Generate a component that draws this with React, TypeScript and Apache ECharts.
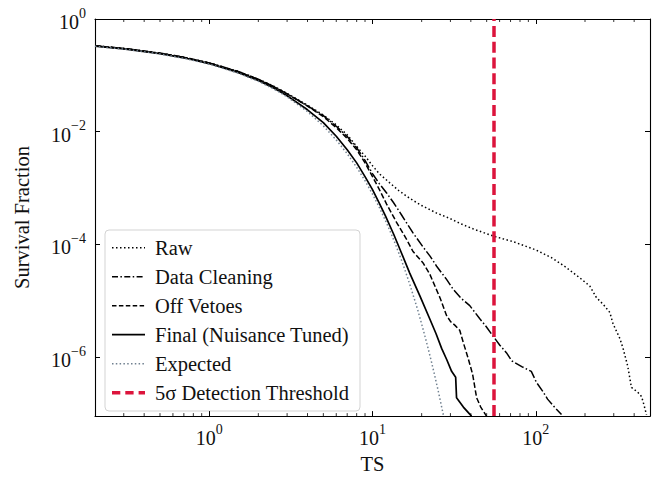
import React, { useEffect, useRef } from 'react';
import * as echarts from 'echarts';

const FONT = '"Liberation Serif", "DejaVu Serif", serif';

// ---- data ----
const tsRaw = [0.2,0.3,0.5,0.7,1,1.5,2,2.5,3,4,5,6,7,8,9,10,11,12.7,14.5,17,20,24.7,29.7,35,42,54.8,72.6,100,125,150,186,214,235,260,284,297,327,342,365,385,420,444,460,476];
const sfRaw = [0.335,0.3,0.248,0.21,0.167,0.118,0.086,0.0635,0.048,0.0295,0.0198,0.0132,0.0088,0.0055,0.0037,0.0025,0.0018,0.00125,9.0e-4,6.5e-4,4.9e-4,3.6e-4,2.9e-4,2.3e-4,1.85e-4,1.41e-4,1.12e-4,8.0e-5,5.8e-5,4.1e-5,2.55e-5,1.83e-5,1.14e-5,8.5e-6,6.2e-6,3.9e-6,2.14e-6,1.43e-6,7e-7,2.9e-7,2.4e-7,2.0e-7,1.4e-7,9.5e-8];

const tsCleaning = [0.2,0.3,0.5,0.7,1,1.5,2,2.5,3,4,5,6,7,8,9,10,11,12.2,13.4,15,17.7,20.4,22.5,24.7,28.4,31.2,35,39.4,45.4,50,54.8,60.2,66,71.3,82,93.8,100.7,110,118,130,143.6];
const sfCleaning = [0.335,0.3,0.247,0.209,0.166,0.117,0.085,0.0625,0.047,0.0288,0.0193,0.0125,0.0082,0.0052,0.0031,0.0018,0.0012,8.2e-4,5.6e-4,3.4e-4,1.6e-4,9.0e-5,6.2e-5,4.1e-5,2.4e-5,1.6e-5,1.1e-5,8.2e-6,4.8e-6,3.4e-6,2.35e-6,1.63e-6,1.2e-6,8.6e-7,6.8e-7,5.6e-7,3.6e-7,2.5e-7,1.8e-7,1.3e-7,9.6e-8];

const tsVetoes = [0.2,0.3,0.5,0.7,1,1.5,2,2.5,3,4,5,6,7,8,9,10,11,12.2,14,16,17.7,20.4,22.4,24.1,26,28.4,30,31.9,34.2,36,38.5,41,43.4,46,49.9];
const sfVetoes = [0.335,0.3,0.247,0.209,0.166,0.117,0.085,0.0625,0.047,0.0285,0.0185,0.0118,0.0076,0.0048,0.0028,0.0016,9.5e-4,5.2e-4,2.5e-4,1.3e-4,7.5e-5,4.7e-5,3.0e-5,1.83e-5,1.1e-5,5.5e-6,4.3e-6,3.7e-6,3.0e-6,1.8e-6,9.6e-7,5e-7,1.9e-7,1.3e-7,9e-8];

const tsFinal = [0.2,0.3,0.5,0.7,1,1.5,2,2.5,3,4,5,6,7,8,9,10,11,12,13.5,15,16.9,19.5,22.4,24.5,26.5,28.5,30.5,32.3,32.7,36,40.4];
const sfFinal = [0.33,0.295,0.243,0.205,0.162,0.113,0.081,0.059,0.0435,0.0245,0.0145,0.0083,0.0048,0.0028,0.0016,9.4e-4,5.4e-4,3.2e-4,1.5e-4,7.2e-5,3.1e-5,1.22e-5,4.8e-6,2.6e-6,1.43e-6,9.0e-7,5.6e-7,4.4e-7,1.9e-7,1.3e-7,9e-8];

const tsExpected = [0.2,0.3,0.5,0.7,1,1.5,2,2.5,3,4,5,6,7,8,9,10,11,12,13,14,15,16,17,18,19,20,21,22,23,24,25,26,27,28];
const sfExpected = [0.327,0.292,0.240,0.201,0.159,0.110,0.0786,0.0569,0.0417,0.0228,0.0127,0.00715,0.00408,0.00234,0.00135,7.83e-4,4.56e-4,2.66e-4,1.56e-4,9.15e-5,5.4e-5,3.17e-5,1.87e-5,1.10e-5,6.6e-6,3.87e-6,2.29e-6,1.36e-6,8.1e-7,4.8e-7,2.87e-7,1.7e-7,1.02e-7,6.1e-8];

const thresholdTS = 55;

const xMin = 0.2;
const xMax = 500;
const yMin = 9e-8;
const yMax = 1;

const xMinorTicks = [0.3,0.4,0.5,0.6,0.7,0.8,0.9,2,3,4,5,6,7,8,9,20,30,40,50,60,70,80,90,200,300,400];

const legendLabels = ['Raw', 'Data Cleaning', 'Off Vetoes', 'Final (Nuisance Tuned)', 'Expected', '5σ Detection Threshold'];

const zip = (a: number[], b: number[]) => a.map((v, i) => [v, b[i]]);

const expLabel = (value: number) => {
  const l = Math.log10(value);
  const e = Math.round(l);
  if (Math.abs(l - e) > 1e-6) return '';
  const s = e < 0 ? '\u2212' + String(-e) : String(e);
  return '{b|10}{s|' + s + '}';
};

const labelRich = {
  b: { fontSize: 20, fontFamily: FONT, color: '#111', lineHeight: 26, verticalAlign: 'bottom' },
  s: { fontSize: 14, fontFamily: FONT, color: '#111', lineHeight: 14, verticalAlign: 'top' },
};

export default function App() {
  const ref = useRef<HTMLDivElement>(null);
  useEffect(() => {
    if (!ref.current) return;
    const chart = echarts.init(ref.current, null, { renderer: 'svg' });

    const black = '#000';
    const grey = '#708090';
    const styles = [
      { color: black, width: 1.5, type: [1.5, 2.5] },
      { color: black, width: 1.5, type: [9.6, 2.4, 1.5, 2.4] },
      { color: black, width: 1.5, type: [5.5, 2.4] },
      { color: black, width: 1.7, type: 'solid' },
      { color: grey, width: 1.5, type: [1.5, 2.3] },
    ];
    const dataSets = [
      zip(tsRaw, sfRaw),
      zip(tsCleaning, sfCleaning),
      zip(tsVetoes, sfVetoes),
      zip(tsFinal, sfFinal),
      zip(tsExpected, sfExpected),
    ];

    const lineSeries: any[] = dataSets.map((d, i) => ({
      type: 'line',
      name: legendLabels[i],
      data: d,
      showSymbol: false,
      symbol: 'none',
      smooth: false,
      clip: true,
      z: 3,
      lineStyle: { color: styles[i].color, width: styles[i].width, type: styles[i].type },
    }));
    lineSeries.push({
      type: 'line',
      name: legendLabels[5],
      data: [],
      symbol: 'none',
      z: 4,
      markLine: {
        silent: true,
        symbol: 'none',
        label: { show: false },
        lineStyle: { color: '#DC143C', width: 3.5, type: [11, 4.8] },
        data: [{ xAxis: thresholdTS }],
      },
    });

    // minor ticks on the log x axis (bottom and top)
    lineSeries.push({
      type: 'custom',
      silent: true,
      clip: false,
      z: 5,
      data: xMinorTicks.map((v) => [v, 1e-3]),
      renderItem: (params: any, api: any) => {
        const cs = params.coordSys;
        const px = api.coord([api.value(0), 1e-3])[0];
        const st = { stroke: '#000', lineWidth: 0.8 };
        return {
          type: 'group',
          children: [
            { type: 'line', shape: { x1: px, y1: cs.y + cs.height, x2: px, y2: cs.y + cs.height - 3 }, style: st },
            { type: 'line', shape: { x1: px, y1: cs.y, x2: px, y2: cs.y + 3 }, style: st },
          ],
        };
      },
    });

    const axisLine = { show: true, onZero: false, lineStyle: { color: '#000', width: 1.1 } };
    const axisTick = { show: true, inside: true, length: 5, lineStyle: { color: '#000', width: 1 } };

    const legendTop = 247.7;
    const legendStep = 29;
    const sampleStyles = [
      { stroke: black, lineWidth: 1.5, lineDash: [1.5, 2.5] },
      { stroke: black, lineWidth: 1.5, lineDash: [6, 2.4, 1.5, 2.4] },
      { stroke: black, lineWidth: 1.5, lineDash: [4.5, 2.4] },
      { stroke: black, lineWidth: 1.7 },
      { stroke: grey, lineWidth: 1.5, lineDash: [1.5, 2.3] },
      { stroke: '#DC143C', lineWidth: 3.5, lineDash: [8.3, 5] },
    ];
    const legendChildren: any[] = [
      {
        type: 'rect',
        shape: { x: 105, y: 230, width: 255, height: 181, r: 4 },
        style: { fill: 'rgba(255,255,255,0.85)', stroke: '#d3d3d3', lineWidth: 1 },
      },
    ];
    legendLabels.forEach((lab, i) => {
      const cy = legendTop + i * legendStep;
      legendChildren.push({
        type: 'line',
        shape: { x1: 112, y1: cy, x2: 145, y2: cy },
        style: sampleStyles[i],
      });
      legendChildren.push({
        type: 'text',
        x: 155,
        y: cy,
        style: { text: lab, fontSize: 20.5, fontFamily: FONT, fill: '#111', verticalAlign: 'middle', align: 'left' },
      });
    });

    chart.setOption({
      animation: false,
      backgroundColor: '#fff',
      grid: { left: 95, right: 5, top: 19, bottom: 57, containLabel: false },
      xAxis: [
        {
          type: 'log',
          min: xMin,
          max: xMax,
          logBase: 10,
          position: 'bottom',
          name: 'TS',
          nameLocation: 'middle',
          nameGap: 33,
          nameTextStyle: { fontSize: 20.5, fontFamily: FONT, color: '#111' },
          axisLine,
          axisTick,
          splitLine: { show: false },
          axisLabel: { margin: 6, formatter: expLabel, rich: labelRich, showMinLabel: true, showMaxLabel: true },
        },
        {
          type: 'log',
          min: xMin,
          max: xMax,
          logBase: 10,
          position: 'top',
          axisLine,
          axisTick,
          splitLine: { show: false },
          axisLabel: { show: false },
        },
      ],
      yAxis: [
        {
          type: 'log',
          min: yMin,
          max: yMax,
          logBase: 100,
          position: 'left',
          name: 'Survival Fraction',
          nameLocation: 'middle',
          nameGap: 63,
          nameTextStyle: { fontSize: 20.5, fontFamily: FONT, color: '#111' },
          axisLine,
          axisTick,
          splitLine: { show: false },
          axisLabel: { margin: 9, formatter: expLabel, rich: labelRich },
        },
        {
          type: 'log',
          min: yMin,
          max: yMax,
          logBase: 100,
          position: 'right',
          axisLine,
          axisTick,
          splitLine: { show: false },
          axisLabel: { show: false },
        },
      ],
      series: lineSeries,
      graphic: [{ type: 'group', z: 100, children: legendChildren }],
    });

    return () => chart.dispose();
  }, []);

  return (
    <div
      ref={ref}
      style={{ position: 'fixed', left: 0, top: 0, width: 655, height: 479, background: '#fff' }}
    />
  );
}
